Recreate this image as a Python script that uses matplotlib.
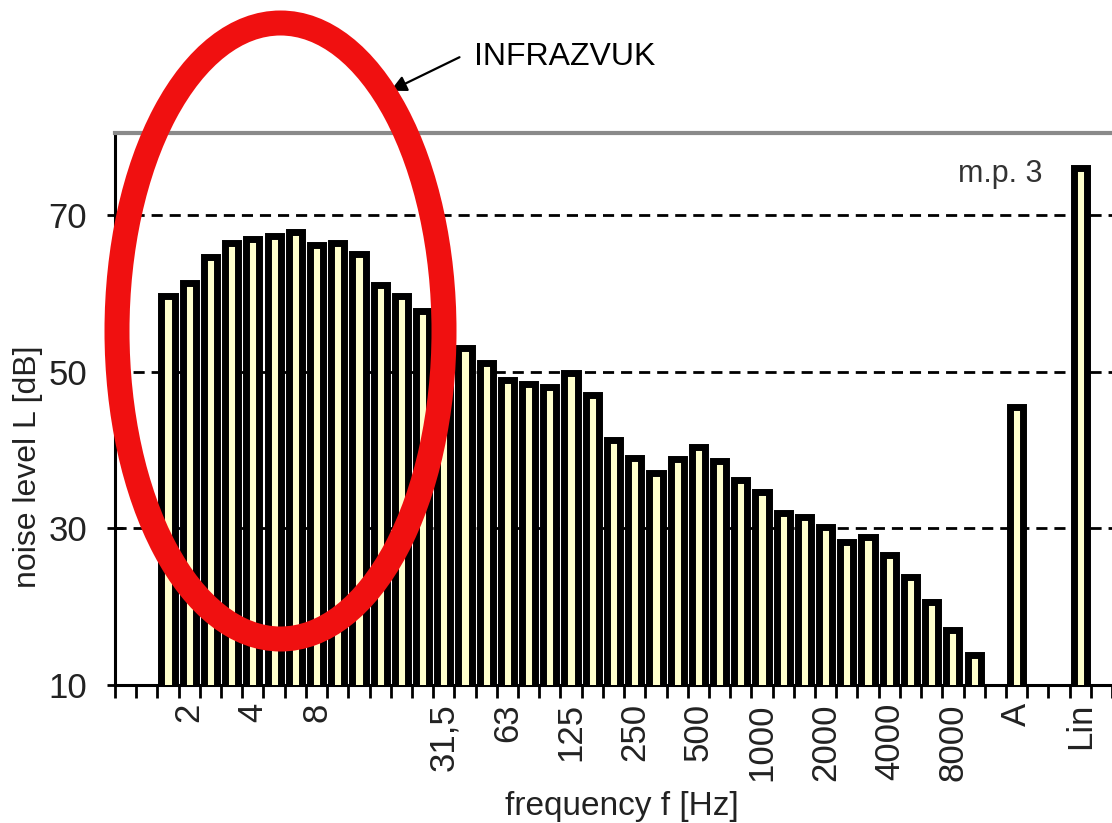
import numpy as np
import matplotlib
matplotlib.use("Agg")
import matplotlib.pyplot as plt
from matplotlib.patches import Ellipse

plt.rcParams['font.family'] = ['Liberation Sans', 'DejaVu Sans']

# third-octave bands (Hz) followed by the A and Lin totals; '' = empty slot
bands = ['1', '1,25', '1,6', '2', '2,5', '3,15', '4', '5', '6,3', '8', '10',
         '12,5', '16', '20', '25', '31,5', '40', '50', '63', '80', '100',
         '125', '160', '200', '250', '315', '400', '500', '630', '800',
         '1000', '1250', '1600', '2000', '2500', '3150', '4000', '5000',
         '6300', '8000', '10000', '', 'A', '', '', 'Lin']
nan = np.nan
levels = [nan, nan, 59.7, 61.4, 64.6, 66.5, 66.9, 67.4, 67.9, 66.2, 66.5,
          65.1, 61.1, 59.7, 57.8, 55.0, 53.0, 51.1, 49.0, 48.4, 48.1,
          49.8, 47.1, 41.3, 39.0, 37.1, 38.9, 40.4, 38.6, 36.2,
          34.6, 32.0, 31.5, 30.2, 28.3, 28.9, 26.6, 23.8,
          20.6, 17.0, 13.8, nan, 45.5, nan, nan, 76.0]
shown_labels = ['2', '4', '8', '31,5', '63', '125', '250', '500', '1000',
                '2000', '4000', '8000', 'A', 'Lin']
y_ticks = [10, 30, 50, 70]

W, H = 1112, 823
fig = plt.figure(figsize=(W / 100, H / 100), dpi=100)
fig.patch.set_facecolor('white')

left_px, right_px, bottom_px, top_px = 115, 1112, 685, 133
ax = fig.add_axes([left_px / W, 1 - bottom_px / H,
                   (right_px - left_px) / W, (bottom_px - top_px) / H])

x = np.arange(len(bands))
vals = np.array(levels, dtype=float)
mask = ~np.isnan(vals)
ax.bar(x[mask], vals[mask], width=0.62, bottom=0, color='#FFFFCC',
       edgecolor='black', linewidth=5.0, zorder=3)

ax.set_xlim(-0.5, 46.1)
ax.set_ylim(10, 80.5)

# y axis
ax.set_yticks(y_ticks)
ax.tick_params(axis='y', direction='inout', length=12, width=2,
               labelsize=25, pad=14, labelcolor='#222222')
ax.yaxis.grid(True, linestyle=(0, (4, 2.5)), color='black', linewidth=2,
              zorder=0)
ax.set_axisbelow(True)

# x axis: labels at category centres, ticks at boundaries
lab_pos = [bands.index(l) for l in shown_labels]
ax.set_xticks(lab_pos)
ax.set_xticklabels(shown_labels, rotation=90)
ax.tick_params(axis='x', which='major', length=0, labelsize=25, pad=13,
               labelcolor='#222222')
ax.set_xticks(np.arange(-0.5, 47, 1.0), minor=True)
ax.tick_params(axis='x', which='minor', direction='out', length=9, width=2)

for s in ['left', 'bottom']:
    ax.spines[s].set_linewidth(2.2)
    ax.spines[s].set_color('black')
ax.spines['top'].set_color('#8a8a8a')
ax.spines['top'].set_linewidth(3)
ax.spines['right'].set_visible(False)

ax.set_ylabel('noise level L [dB]', fontsize=23, color='#222222')
ax.yaxis.set_label_coords(-0.072, 0.395)
ax.set_xlabel('frequency f [Hz]', fontsize=24, color='#222222')
ax.xaxis.set_label_coords((622 - left_px) / (right_px - left_px), -0.192)

ax.text((1000 - left_px) / (right_px - left_px), 0.925, 'm.p. 3',
        transform=ax.transAxes, fontsize=22, color='#333333',
        ha='center', va='center')

# red ellipse highlighting the infrasound region
ell = Ellipse((280.5 / W, 1 - 331 / H), 327 / W, 616 / H,
              transform=fig.transFigure, fill=False, edgecolor='#F01010',
              linewidth=18, zorder=10)
fig.add_artist(ell)

fig.text(474 / W, 1 - 57 / H, 'INFRAZVUK', fontsize=23, color='black',
         ha='left', va='center')
ax.annotate('', xy=(388, H - 92), xycoords='figure pixels',
            xytext=(462, H - 56), textcoords='figure pixels',
            arrowprops=dict(arrowstyle='-|>', color='black', lw=1.6,
                            mutation_scale=24), annotation_clip=False)

fig.savefig('out.png', dpi=100)
